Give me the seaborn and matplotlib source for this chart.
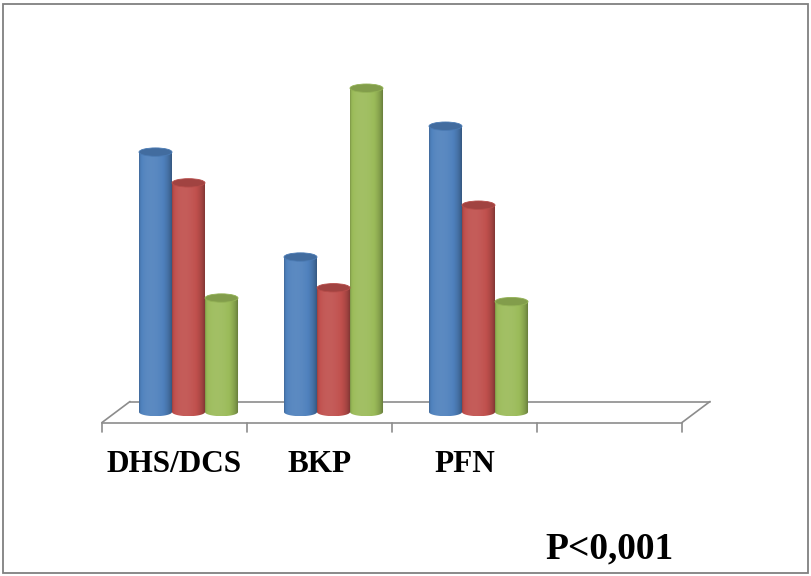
import numpy as np
import pandas as pd
import matplotlib
matplotlib.use("Agg")
import matplotlib.pyplot as plt
import matplotlib.transforms as mtransforms
from matplotlib.patches import PathPatch, Ellipse, Rectangle
from matplotlib.path import Path
from matplotlib.lines import Line2D
import seaborn as sns

# ---------------- data ----------------
categories = ["DHS/DCS", "BKP", "PFN"]
slots = ["DHS/DCS", "BKP", "PFN", " "]          # fourth slot is empty in the original
series_names = ["Seri 1", "Seri 2", "Seri 3"]
blue_vals = [43.1, 25.7, 47.4]
red_vals = [38.0, 20.6, 34.3]
green_vals = [18.9, 53.7, 18.3]
series_colors = ["#4F81BD", "#C0504D", "#9BBB59"]
p_text = "P<0,001"

rows = []
for name, vals in zip(series_names, [blue_vals, red_vals, green_vals]):
    for c, v in zip(categories, vals):
        rows.append({"method": c, "value": v, "series": name})
df = pd.DataFrame(rows)

# ---------------- figure ----------------
sns.set_theme(style="white")
plt.rcParams["font.family"] = ["Liberation Serif", "DejaVu Serif"]

W, H = 811, 576
fig = plt.figure(figsize=(W / 100, H / 100), dpi=100)
fig.patch.set_facecolor("white")

def fx(px):
    return px / W

def fy(py):
    return 1 - py / H

base_px = 412.0
top_px = 50.0
margin_px = 12.0
left_px, right_px = 116.0, 696.0
ax = fig.add_axes([fx(left_px), fy(base_px + margin_px), (right_px - left_px) / W,
                   (base_px + margin_px - top_px) / H])

sns.barplot(data=df, x="method", y="value", hue="series", order=slots,
            hue_order=series_names, palette=series_colors, saturation=1,
            width=0.683, dodge=True, legend=False, errorbar=None, ax=ax)

px_per_unit = 6.03
ymax = (base_px - top_px) / px_per_unit
ymin = -margin_px / px_per_unit
ax.set_xlim(-0.5, len(slots) - 0.5)
ax.set_ylim(ymin, ymax)
ax.axis("off")
ax.patch.set_alpha(0)

e = 4.2 / px_per_unit     # half-height of cylinder ellipses in data units


def shade(rgb, n=64):
    t = np.linspace(0, 1, n)
    theta = np.arcsin(np.clip(2 * t - 1, -1, 1))
    inten = 0.66 + 0.46 * np.clip(np.cos(theta + 0.3), 0, None)
    rgb = np.array(rgb[:3])
    out = np.zeros((1, n, 4))
    for i, k in enumerate(inten):
        if k <= 1:
            c = rgb * k
        else:
            c = rgb + (1 - rgb) * (k - 1) * 0.6
        out[0, i, :3] = np.clip(c, 0, 1)
        out[0, i, 3] = 1
    return out


bars = [p for p in ax.patches if p.get_height() > 0]
bars.sort(key=lambda p: p.get_x())
for p in bars:
    x0, w, h = p.get_x(), p.get_width(), p.get_height()
    col = p.get_facecolor()
    p.set_visible(False)
    xc = x0 + w / 2
    ts = np.linspace(np.pi, 2 * np.pi, 40)
    verts = [(x0, h), (x0, 0)]
    verts += [(xc + w / 2 * np.cos(t), e * np.sin(t)) for t in ts]
    verts += [(x0 + w, h), (x0, h)]
    codes = [Path.MOVETO] + [Path.LINETO] * (len(verts) - 2) + [Path.CLOSEPOLY]
    body = PathPatch(Path(verts, codes), transform=ax.transData,
                     facecolor="none", edgecolor="none")
    ax.add_patch(body)
    im = ax.imshow(shade(col), extent=(x0, x0 + w, -e, h), aspect="auto",
                   interpolation="bilinear", zorder=2)
    im.set_clip_path(body)
    topc = np.clip(np.array(col[:3]) * 0.84, 0, 1)
    ax.add_patch(Ellipse((xc, h), w, 2 * e, facecolor=topc,
                         edgecolor=np.clip(np.array(col[:3]) * 0.95, 0, 1),
                         lw=0.6, zorder=3))
ax.set_xlim(-0.5, len(slots) - 0.5)
ax.set_ylim(ymin, ymax)

# ---------------- floor (3-D category plane) ----------------
dxp, dyp = 14, 10.5
front = mtransforms.offset_copy(ax.transData, fig=fig, x=-dxp, y=-dyp, units="dots")
back = mtransforms.offset_copy(ax.transData, fig=fig, x=dxp, y=dyp, units="dots")
gray = "#8c8c8c"
lw = 1.2
x_lo, x_hi = -0.5, len(slots) - 0.5
ax.add_line(Line2D([x_lo, x_hi], [0, 0], transform=front, color=gray, lw=lw, clip_on=False, zorder=1))
ax.add_line(Line2D([x_lo, x_hi], [0, 0], transform=back, color=gray, lw=lw, clip_on=False, zorder=1))
for xe in (x_lo, x_hi):
    a = front.transform((xe, 0))
    b = back.transform((xe, 0))
    ax.add_line(Line2D([a[0], b[0]], [a[1], b[1]], transform=None, color=gray, lw=lw,
                       clip_on=False, zorder=1))
tick_tr = mtransforms.offset_copy(ax.transData, fig=fig, x=-dxp, y=-dyp - 9, units="dots")
for k in range(len(slots) + 1):
    xe = -0.5 + k
    a = front.transform((xe, 0))
    b = tick_tr.transform((xe, 0))
    ax.add_line(Line2D([a[0], b[0]], [a[1], b[1]], transform=None, color=gray, lw=lw,
                       clip_on=False, zorder=1))

# ---------------- labels ----------------
lab_tr = mtransforms.offset_copy(ax.transData, fig=fig, x=-dxp, y=-60, units="dots")
for i, c in enumerate(categories):
    ax.text(i, 0, c, transform=lab_tr, ha="center", va="baseline",
            fontsize=22.5, fontweight="bold", color="black",
            family=["Liberation Serif", "DejaVu Serif"], clip_on=False)

fig.text(fx(545), fy(558), p_text, ha="left", va="baseline", fontsize=27,
         fontweight="bold", color="black", family=["Liberation Serif", "DejaVu Serif"])

# border around the whole chart
fig.add_artist(Rectangle((fx(3), fy(573)), (808 - 3) / W, (573 - 4) / H,
                         transform=fig.transFigure, fill=False,
                         edgecolor="#808080", lw=1.3))

fig.savefig("out.png", dpi=100)
